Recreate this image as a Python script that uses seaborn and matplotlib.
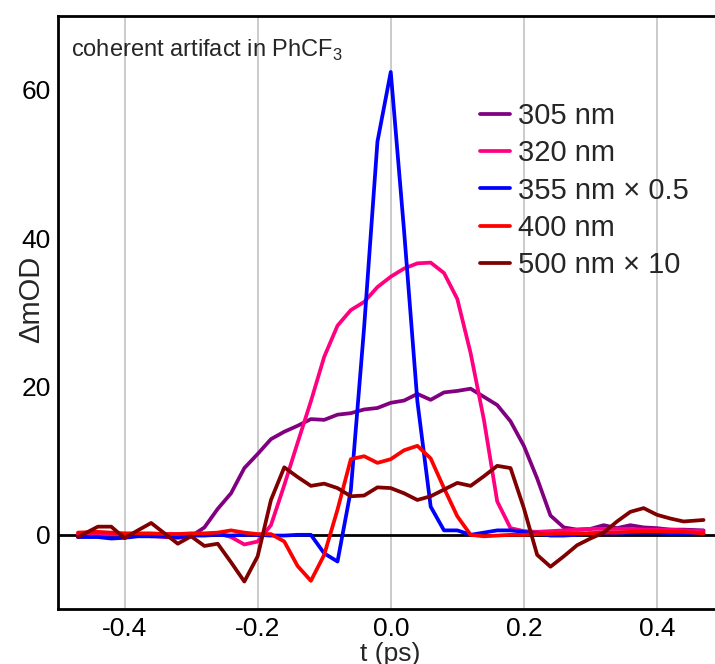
import numpy as np
import pandas as pd
import matplotlib
matplotlib.use("Agg")
import matplotlib.pyplot as plt
import seaborn as sns

# ---- data ----
t_ps = [-0.47, -0.44, -0.42, -0.40, -0.38, -0.36, -0.34, -0.32, -0.30, -0.28,
        -0.26, -0.24, -0.22, -0.20, -0.18, -0.16, -0.14, -0.12, -0.10, -0.08,
        -0.06, -0.04, -0.02, 0.00, 0.02, 0.04, 0.06, 0.08, 0.10, 0.12,
        0.14, 0.16, 0.18, 0.20, 0.22, 0.24, 0.26, 0.28, 0.30, 0.32,
        0.34, 0.36, 0.38, 0.40, 0.42, 0.44, 0.47]

nm305 = [0.0, 0.0, 0.0, 0.0, 0.1, -0.2, -0.3, -0.4, -0.2, 1.0,
         3.5, 5.6, 9.0, 10.9, 12.9, 13.9, 14.7, 15.6, 15.5, 16.2,
         16.4, 16.9, 17.1, 17.8, 18.1, 19.0, 18.2, 19.2, 19.4, 19.7,
         18.6, 17.5, 15.3, 12.0, 7.6, 2.6, 1.0, 0.7, 0.8, 1.3,
         0.9, 1.3, 1.0, 0.9, 0.7, 0.7, 0.6]

nm320 = [0.1, 0.1, 0.1, 0.1, 0.1, 0.1, 0.1, 0.1, 0.1, 0.1,
         0.2, -0.3, -1.3, -0.9, 1.3, 6.7, 12.4, 18.0, 24.0, 28.2,
         30.3, 31.4, 33.4, 34.8, 35.9, 36.6, 36.7, 35.3, 31.8, 24.5,
         15.5, 4.5, 0.9, 0.5, 0.4, 0.5, 0.6, 0.7, 0.8, 0.8,
         0.8, 0.8, 0.7, 0.7, 0.7, 0.6, 0.5]

nm355_x05 = [-0.3, -0.3, -0.5, -0.4, -0.2, -0.2, -0.1, -0.3, -0.1, -0.1,
             0.0, -0.1, 0.0, 0.0, -0.1, -0.1, 0.0, 0.0, -2.5, -3.6,
             6.0, 28.0, 53.0, 62.4, 41.0, 18.0, 3.8, 0.6, 0.6, 0.0,
             0.3, 0.6, 0.6, 0.4, 0.2, -0.1, -0.1, 0.0, 0.2, 0.2,
             0.2, 0.3, 0.3, 0.3, 0.2, 0.2, 0.2]

nm400 = [0.3, 0.4, 0.3, 0.2, 0.2, 0.2, 0.1, 0.1, 0.2, 0.2,
         0.3, 0.6, 0.3, 0.1, 0.1, -0.9, -4.2, -6.2, -2.7, 3.4,
         10.2, 10.6, 9.7, 10.2, 11.4, 12.0, 10.3, 6.3, 2.5, 0.0,
         -0.2, -0.1, 0.0, 0.0, 0.1, 0.1, 0.2, 0.2, 0.2, 0.3,
         0.3, 0.4, 0.5, 0.5, 0.4, 0.4, 0.2]

nm500_x10 = [-0.3, 1.1, 1.1, -0.45, 0.6, 1.6, 0.2, -1.2, -0.2, -1.5,
             -1.2, -3.7, -6.3, -2.9, 4.7, 9.1, 7.8, 6.6, 6.9, 6.3,
             5.2, 5.3, 6.4, 6.3, 5.6, 4.7, 5.2, 6.1, 7.0, 6.6,
             7.9, 9.3, 9.0, 3.6, -2.7, -4.3, -2.9, -1.4, -0.5, 0.3,
             1.8, 3.1, 3.6, 2.7, 2.2, 1.8, 2.0]

series_labels = ["305 nm", "320 nm", "355 nm \u00d7 0.5", "400 nm", "500 nm \u00d7 10"]
series_colors = ["#800080", "#ff0080", "#0000ff", "#ff0000", "#800000"]
x_ticks = [-0.4, -0.2, 0.0, 0.2, 0.4]
y_ticks = [0, 20, 40, 60]

# ---- build long-form table ----
frames = []
for lab, vals in zip(series_labels, [nm305, nm320, nm355_x05, nm400, nm500_x10]):
    frames.append(pd.DataFrame({"t": t_ps, "v": vals, "series": lab}))
df = pd.concat(frames, ignore_index=True)

sns.set_theme(style="white")
plt.rcParams["font.family"] = ["Liberation Sans", "DejaVu Sans"]
plt.rcParams["axes.unicode_minus"] = False

W, H = 715, 664
fig = plt.figure(figsize=(W / 100, H / 100), dpi=100)
x0, x1 = 58, 723.5
y_top, y_bot = 15.6, 609
ax = fig.add_axes([x0 / W, (H - y_bot) / H, (x1 - x0) / W, (y_bot - y_top) / H])

for xt in x_ticks:
    ax.axvline(xt, color="#bdbdbd", lw=1.1, zorder=0)
ax.axhline(0, color="black", lw=2.0, zorder=1)

sns.lineplot(data=df, x="t", y="v", hue="series", hue_order=series_labels,
             palette=dict(zip(series_labels, series_colors)),
             estimator=None, sort=False, linewidth=2.7, ax=ax, zorder=3)

ax.set_xlim(-0.5, 0.5)
ax.set_ylim(-10, 70)
ax.set_xticks(x_ticks)
ax.set_xticklabels([f"{v:.1f}" for v in x_ticks])
ax.set_yticks(y_ticks)
ax.tick_params(direction="in", length=4, width=1.8, labelsize=19, pad=5,
               colors="black")
ax.tick_params(axis="x", pad=6)
for s in ["left", "top", "bottom"]:
    ax.spines[s].set_linewidth(2.0)
    ax.spines[s].set_color("black")
ax.spines["right"].set_visible(False)

ax.set_xlabel("t (ps)", fontsize=19, labelpad=0)
ax.xaxis.set_label_coords((390 - x0) / (x1 - x0), -(642 - y_bot) / (y_bot - y_top))
ax.set_ylabel("\u0394mOD", fontsize=21)
ax.yaxis.set_label_coords(-(x0 - 45) / (x1 - x0), (y_bot - 299) / (y_bot - y_top))

ax.text(0.02, 0.962, r"coherent artifact in PhCF$_\mathregular{3}$",
        transform=ax.transAxes, fontsize=17, ha="left", va="top")

handles, labels = ax.get_legend_handles_labels()
ax.legend(handles, labels, loc="upper left", frameon=False, fontsize=21,
          handlelength=1.03, handletextpad=0.26, labelspacing=0.32,
          borderpad=0, borderaxespad=0,
          bbox_to_anchor=(480 / W, 1 - 102 / H), bbox_transform=fig.transFigure)

fig.savefig("out.png", dpi=100)
